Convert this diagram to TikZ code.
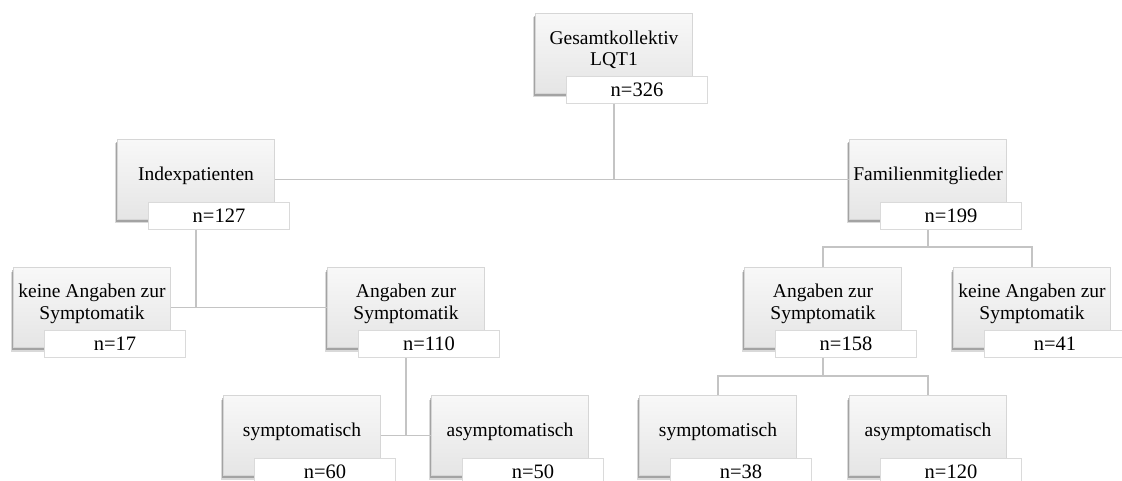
\documentclass[tikz,border=0pt]{standalone}
\usepackage{fontspec}
\setmainfont{Liberation Serif}
\usetikzlibrary{shadows,calc}
\definecolor{connc}{HTML}{C4C4C4}
\definecolor{boxtop}{HTML}{F8F8F8}
\definecolor{boxbot}{HTML}{E5E5E5}
\definecolor{boxline}{HTML}{D6D6D6}
\definecolor{lblline}{HTML}{DADADA}
\tikzset{
  gbox/.style={rectangle, anchor=north west, minimum width=157pt, minimum height=80pt,
    inner sep=0pt, draw=boxline, line width=1pt, top color=boxtop, bottom color=boxbot,
    drop shadow={shadow xshift=-2.5pt, shadow yshift=-4pt, fill=black, opacity=0.15},
    drop shadow={shadow xshift=-1.5pt, shadow yshift=-2.5pt, fill=black, opacity=0.25}},
  btext/.style={align=center, inner sep=0pt, font=\fontsize{19.5}{21.5}\selectfont},
  lbox/.style={rectangle, anchor=north west, minimum width=141pt, minimum height=27pt,
    inner sep=0pt, draw=lblline, line width=1pt, fill=white,
    font=\fontsize{20.5}{22}\selectfont},
  conn/.style={draw=connc, line width=1.5pt},
}
\newcommand\panelbox[5]{%
  \node[gbox] (#1) at (#2,#3) {};
  \node[btext] (#1t) at ([yshift=3.5pt]#1.center) {#4};
  \node[lbox] (#1n) at ([xshift=31pt,yshift=-63pt]#1.north west) {#5};
}
\begin{document}
\begin{tikzpicture}[x=1pt,y=-1pt]
\useasboundingbox (0,0) rectangle (1122,481);
\panelbox{G}{535}{13}{Gesamtkollektiv\\LQT1}{n=326}
\panelbox{I}{117}{139}{Indexpatienten}{n=127}
\panelbox{F}{849}{139}{Familienmitglieder}{n=199}
\panelbox{Ka}{13}{267}{keine Angaben zur\\Symptomatik}{n=17}
\panelbox{Aa}{327}{267}{Angaben zur\\Symptomatik}{n=110}
\panelbox{Ab}{744}{267}{Angaben zur\\Symptomatik}{n=158}
\panelbox{Kb}{953}{267}{keine Angaben zur\\Symptomatik}{n=41}
\panelbox{Sa}{223}{395}{symptomatisch}{n=60}
\panelbox{Za}{431}{395}{asymptomatisch}{n=50}
\panelbox{Sb}{639}{395}{symptomatisch}{n=38}
\panelbox{Zb}{849}{395}{asymptomatisch}{n=120}
% connectors
\draw[conn] (G.center |- Gn.south) -- (G.center |- I.east);
\draw[conn] (I.east) -- (F.west);
\draw[conn] (I.center |- In.south) -- (I.center |- Ka.east);
\draw[conn] (Ka.east) -- (Aa.west);
\draw[conn] (Aa.center |- Aan.south) -- (Aa.center |- Sa.east);
\draw[conn] (Sa.east) -- (Za.west);
\draw[conn] (F.center |- Fn.south) -- (F.center |- 0,247);
\draw[conn] (Ab.north) -- (Ab.north |- 0,247) -- (Kb.north |- 0,247) -- (Kb.north);
\draw[conn] (Ab.center |- Abn.south) -- (Ab.center |- 0,376);
\draw[conn] (Sb.north) -- (Sb.north |- 0,376) -- (Zb.north |- 0,376) -- (Zb.north);
\end{tikzpicture}
\end{document}
